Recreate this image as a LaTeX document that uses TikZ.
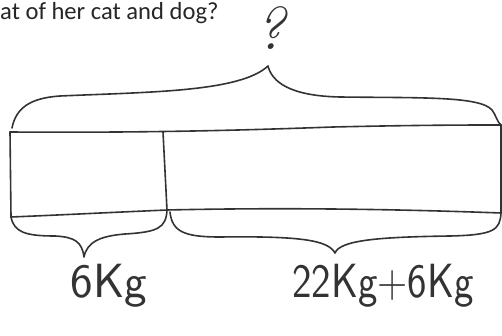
\documentclass[tikz,border=0pt]{standalone}
\usepackage{fontspec}
\newfontfamily\calib{Carlito}
\begin{document}
\begin{tikzpicture}[x=1pt,y=-1pt,
  pen/.style={draw=black!80,line width=1.6pt,line cap=round,line join=round},
  hand/.style={inner sep=0pt,text=black!80,font=\sffamily\fontsize{48}{48}\selectfont},
  printed/.style={inner sep=0pt,text=black!85,font=\calib\fontsize{24.6}{24.6}\selectfont}]
\useasboundingbox (0,0) rectangle (502,336);
% question text
\node[printed,anchor=base west] (q) at (0,20) {at of her cat and dog?};
\node[inner sep=0pt,text=black!80,font=\itshape\fontsize{60}{60}\selectfont,anchor=base] (qm) at (270,50) {?};
% bar corners
\coordinate (TL) at (10,132);
\coordinate (TM) at (163,132);
\coordinate (TR) at (501,125);
\coordinate (BL) at (11,217);
\coordinate (BM) at (167,210);
\coordinate (BR) at (501,213);
% bar
\draw[pen] (TL) .. controls (150,133) and (250,130) .. (333,127) .. controls (420,125) and (470,125) .. (TR);
\draw[pen] (BL) .. controls (60,215) and (120,212) .. (BM) .. controls (300,207) and (420,210) .. (BR);
\draw[pen] (TL) -- (BL);
\draw[pen] (TM) -- (BM);
\draw[pen] (TR) -- (BR);
% top brace
\coordinate (tc) at (268,66);
\draw[pen] (12,128) .. controls (16,108) and (30,98) .. (60,96)
  .. controls (150,92) and (240,92) .. (tc)
  .. controls (272,82) and (290,96) .. (340,97)
  .. controls (420,98) and (480,96) .. (492,110)
  .. controls (496,115) and (497,122) .. (TR);
% bottom left brace
\coordinate (lc) at (84,257);
\draw[pen] (BL) .. controls (14,232) and (25,236) .. (55,236)
  .. controls (75,237) and (82,242) .. (lc)
  .. controls (87,242) and (100,236) .. (125,234)
  .. controls (158,232) and (166,228) .. (BM);
% bottom right brace
\coordinate (rc) at (335,253);
\draw[pen] (170,212) .. controls (172,232) and (185,237) .. (220,237)
  .. controls (300,236) and (328,240) .. (rc)
  .. controls (340,240) and (380,237) .. (450,236)
  .. controls (494,235) and (500,230) .. (BR);
% labels
\node[hand,anchor=base] (l1) at (109,297) {6Kg};
\node[hand,anchor=base,xscale=0.86] (l2) at (383,297) {22Kg+6Kg};
\end{tikzpicture}
\end{document}
